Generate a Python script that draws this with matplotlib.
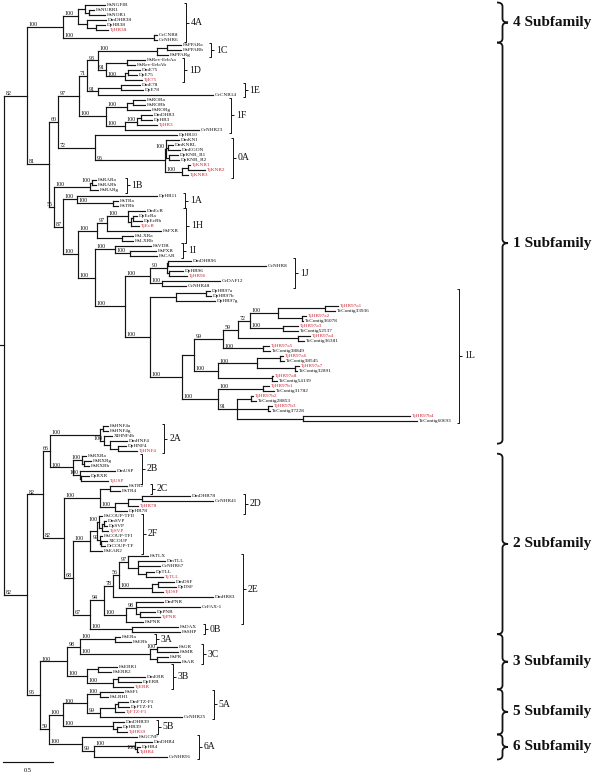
import matplotlib
matplotlib.use("Agg")
import matplotlib.pyplot as plt
from matplotlib.collections import LineCollection
from matplotlib.path import Path
from matplotlib.patches import PathPatch

# ---------------- data: tree (Newick, branch lengths in substitutions/site, internal labels = bootstrap) -------------
SUB4 = "(((HsNGFIB:0.20,(HsNURR1:0.05,HsNOR1:0.16):0.04):0.07,(DmDHR38:0.19,(DpHR38:0.09,TjHR38:0.12):0.09):0.09)100:0.15,(CeCNR8:0.03,CeNHR6:0.03)100:0.91)100:0.36"
S93 = "(((HsPPARa:0.14,HsPPARb:0.14):0.10,HsPPARg:0.11)100:0.59,((HsRev-ErbAa:0.18,HsRev-ErbAb:0.08):0.21,((DmE75:0.12,DpE75:0.09):0.03,TjE75:0.17)100:0.19)91:0.08)93:0.11"
C1E = "((DmE78:0.19,DpE78:0.22):0.23,CeCNR14:1.15)91:0.11"
C1F = "(((HsRORa:0.12,HsRORb:0.12):0.06,HsRORg:0.23)100:0.21,(((DmDHR3:0.11,DpHR3:0.11):0.04,TjHR3:0.20)100:0.12,CeNHR23:0.74)100:0.19)100:0.27"
C0A = "((DmKNI:0.13,(DmKNRL:0.05,DmEGON:0.12):0.02,(DpKNR_R1:0.09,DpKNR_R2:0.10):0.03)100:0.01,((TjKNR1:0.02,TjKNR2:0.17):0.06,TjKNR3:0.06)100:0.17)96:0.70"
C1B = "((HsRARa:0.04,HsRARb:0.04)100:0.02,HsRARg:0.08)100:0.36"
C1A = "(DpHR11:0.80,(HsTRa:0.05,HsTRb:0.05)100:0.36)100:0.14"
C1H = "(((DmEcR:0.17,((DpEcRa:0.04,DpEcRb:0.09):0.02,TjEcR:0.08):0.03)100:0.21,HsFXR:0.54)97:0.10,(HsLXRa:0.11,HsLXRb:0.11):0.25)100:0.19"
C1I = "(HsVDR:0.36,(HsPXR:0.26,HsCAR:0.27)100:0.15)100:0.20"
C1J = "(((DmDHR96:0.23,CeNHR8:0.98):0.01,(DpHR96:0.14,TjHR96:0.18):0.02)90:0.17,(CeDAF12:0.58,CeNHR48:0.24)100:0.12)100:0.25"
L8 = "((TjHR97a1:0.13,TcContig33936:0.10):0.47,(TjHR97a2:0.04,TcContig36078:0.01):0.24)100:0.28"
L7 = "(" + L8 + ",(TjHR97a3:0.15,TcContig52537:0.15)100:0.33)72:0.12"
L6 = "(" + L7 + ",(TjHR97a4:0.12,TcContig36381:0.06):0.60)59:0.15"
L5 = "(" + L6 + ",(TjHR97a5:0.06,TcContig38849:0.07)100:0.40)99:0.29"
L9 = "(((TjHR97a6:0.03,TcContig38545:0.04):0.23,(TjHR97a7:0.04,TcContig32891:0.02):0.38)100:0.39,(TjHR97a8:0.01,TcContig54139:0.05):0.54)100:0.24"
L11 = "((TjHR97b1:0.06,TcContig31782:0.11)100:0.45,((TjHR97b2:0.02,TcContig28853:0.05):0.14,(TjHR97b3:0.04,TcContig37228:0.02):0.31,(TjHR97b4:1.07,TcContig60693:1.14):0.66)91:0.19)100:0.36"
C1L = "(((DpHR97a:0.04,DpHR97b:0.05):0.30,DpHR97g:0.39):0.26,((" + L5 + "," + L9 + "):0.12," + L11 + ")100:0.32)100:0.25"
SUB1 = ("((((" + S93 + "," + C1E + ")71:0.08," + C1F + ")97:0.21,(DpHR10:0.82," + C0A + ")72:0.37)60:0.09,("
        + C1B + ",(" + C1A + ",(" + C1H + ",(" + C1I + ",(" + C1J + "," + C1L + ")100:0.30)100:0.17)100:0.15)87:0.09)55:0.05)81:0.22")
TOP = "(" + SUB4 + "," + SUB1 + ")82:0.23"

C2A = "((HsHNF4a:0.05,HsHNF4g:0.05):0.03,(XlHNF4b:0.08,(DmHNF4:0.17,(DpHNF4:0.08,TjHNF4:0.19):0.08):0.06)100:0.04)100:0.50"
C2B = "((HsRXRa:0.04,(HsRXRg:0.07,HsRXRb:0.05):0.02)100:0.09,(DmUSP:0.35,(DpRXR:0.08,TjUSP:0.27):0.01)100:0.07)100:0.23"
C2CD = "((HsTR2:0.17,HsTR4:0.10):0.10,(((DmDHR78:0.48,CeNHR41:0.71):0.14,TjHR78:0.10):0.13,DpHR78:0.12)100:0.15)100:0.36"
C2F = "(((HsCOUP-TFII:0.03,((DmSVP:0.02,DpSVP:0.03):0.02,TjSVP:0.06):0.03)100:0.02,(HsCOUP-TFI:0.02,(XlCOUP:0.06,DrCOUP-TF:0.04):0.01)99:0.03):0.07,HsEAR2:0.12)100:0.17"
C2E = "((HsTLX:0.20,(DmTLL:0.27,CeNHR67:0.22,(DpTLL:0.08,TjTLL:0.17):0.08):0.10)97:0.09,((DmDSF:0.16,DpDSF:0.18):0.06,TjDSF:0.11)100:0.33)56:0.06"
CPNR = "((DmPNR:0.27,CeFAX-1:0.64,(DpPNR:0.15,TjPNR:0.20):0.04)98:0.10,HsPNR:0.17)100:0.22"
C0B = "(HsDAX:0.46,HsSHP:0.48)100:0.42"
SUB2 = ("((" + C2A + "," + C2B + ")66:0.07,(" + C2CD + ",(" + C2F + ",(((" + C2E + ",DmHR83:1.00)78:0.09,"
        + CPNR + ")94:0.14," + C0B + ")67:0.17)68:0.09)82:0.21)82:0.16")
SUB3 = "(((HsERa:0.05,HsERb:0.16)100:0.35,((HsGR:0.20,HsMR:0.21)100:0.07,(HsPR:0.11,HsAR:0.23):0.07)100:0.70)98:0.13,((HsERR1:0.19,HsERR2:0.13):0.11,((DmERR:0.27,DpERR:0.23):0.05,TjERR:0.20)100:0.26)100:0.20)100:0.27"
SUB5 = "(((HsSF1:0.23,HsLRH1:0.08)100:0.13,(((DmFTZ-F1:0.10,DpFTZ-F1:0.11):0.03,TjFTZ-F1:0.09):0.15,CeNHR25:0.82)99:0.13)100:0.24,(DmDHR39:0.11,(DpHR39:0.04,TjHR39:0.10):0.04)100:0.50)100:0.14"
SUB6 = "(HsGCNF:0.55,((DmDHR4:0.17,(DpHR4:0.03,TjHR4:0.01)100:0.02)100:0.41,CeNHR91:0.73)99:0.12)100:0.33"
BOTTOM = "(" + SUB2 + ",(" + SUB3 + ",(" + SUB5 + "," + SUB6 + ")59:0.09)96:0.13)82:0.23"
TREE = "(" + TOP + "," + BOTTOM + ");"

CLADES = [("4A", "HsNGFIB", "CeNHR6"), ("1C", "HsPPARa", "HsPPARg"), ("1D", "HsRev-ErbAa", "TjE75"),
          ("1E", "DmE78", "CeCNR14"), ("1F", "HsRORa", "CeNHR23"), ("0A", "DmKNI", "TjKNR3"),
          ("1B", "HsRARa", "HsRARg"), ("1A", "DpHR11", "HsTRb"), ("1H", "DmEcR", "HsLXRb"),
          ("1I", "HsVDR", "HsCAR"), ("1J", "DmDHR96", "CeNHR48"), ("1L", "DpHR97a", "TcContig60693"),
          ("2A", "HsHNF4a", "TjHNF4"), ("2B", "HsRXRa", "TjUSP"), ("2C", "HsTR2", "HsTR4"),
          ("2D", "DmDHR78", "DpHR78"), ("2F", "HsCOUP-TFII", "HsEAR2"), ("2E", "HsTLX", "HsPNR"),
          ("0B", "HsDAX", "HsSHP"), ("3A", "HsERa", "HsERb"), ("3C", "HsGR", "HsAR"),
          ("3B", "HsERR1", "TjERR"), ("5A", "HsSF1", "CeNHR25"), ("5B", "DmDHR39", "TjHR39"),
          ("6A", "HsGCNF", "CeNHR91")]
SUBFAMILIES = [("4 Subfamily", "HsNGFIB", "CeNHR6"), ("1 Subfamily", "HsPPARa", "DmHNF4"),
               ("2 Subfamily", "HsRXRa", "HsSHP"), ("3 Subfamily", "HsERa", "TjERR"),
               ("5 Subfamily", "HsSF1", "TjHR39"), ("6 Subfamily", "HsGCNF", "CeNHR91")]
HIGHLIGHT_PREFIX = "Tj"
SCALE_LEN = 0.5
SCALE_LABEL = "0.5"


# ---------------- parsing / layout ----------------
def parse_newick(s):
    s = "".join(s.split()).rstrip(";")
    pos = 0

    def node():
        nonlocal pos
        n = {"children": [], "name": "", "length": 0.0}
        if s[pos] == "(":
            pos += 1
            while True:
                n["children"].append(node())
                if s[pos] == ",":
                    pos += 1
                    continue
                pos += 1  # ')'
                break
        start = pos
        while pos < len(s) and s[pos] not in ",():":
            pos += 1
        n["name"] = s[start:pos]
        if pos < len(s) and s[pos] == ":":
            pos += 1
            start = pos
            while pos < len(s) and s[pos] not in ",()":
                pos += 1
            n["length"] = float(s[start:pos])
        return n

    return node()


root = parse_newick(TREE)
leaves = []


def layout(n, x, parent=None):
    n["x"] = x
    n["parent"] = parent
    if not n["children"]:
        n["y"] = float(len(leaves))
        leaves.append(n)
    else:
        for c in n["children"]:
            layout(c, x + c["length"], n)
        n["y"] = (n["children"][0]["y"] + n["children"][-1]["y"]) / 2.0


layout(root, 0.0)
leaf_by_name = {l["name"]: l for l in leaves}

# ---------------- figure ----------------
PXX = 100.0          # pixels per tree unit
X0 = 4.0             # root position (px)
Y0 = 5.0             # first leaf (px)
DY = 5.0133          # leaf spacing (px)
W, H = 600, 774

fig = plt.figure(figsize=(W / 100, H / 100), dpi=100)
ax = fig.add_axes([0, 0, 1, 1])
ax.set_xlim(-X0 / PXX, (W - X0) / PXX)
ax.set_ylim((H - Y0) / DY, -Y0 / DY)
ax.axis("off")

px = lambda p: p / PXX   # px -> x units
py = lambda p: p / DY    # px -> y units

SERIF = ["Liberation Serif", "DejaVu Serif"]
LINE_C = "#141414"
RED = "#cc2a36"

segs = []


def collect(n):
    if n["children"]:
        ys = [c["y"] for c in n["children"]]
        segs.append([(n["x"], min(ys)), (n["x"], max(ys))])
        for c in n["children"]:
            segs.append([(n["x"], c["y"]), (c["x"], c["y"])])
            collect(c)


collect(root)
segs.append([(root["x"] - px(4), root["y"]), (root["x"], root["y"])])
ax.add_collection(LineCollection(segs, colors=LINE_C, linewidths=0.85, capstyle="projecting"))

# leaf labels
leaf_texts = {}
for l in leaves:
    col = RED if l["name"].startswith(HIGHLIGHT_PREFIX) else "#111111"
    leaf_texts[l["name"]] = ax.text(l["x"] + px(1.5), l["y"], l["name"], fontsize=3.8, family=SERIF,
                                    color=col, ha="left", va="center")


# support values: at the start of the branch, or next to the node when the branch is too short
def supports(n):
    for c in n["children"]:
        if c["children"] and c["name"]:
            branch_px = (c["x"] - n["x"]) * PXX
            label_px = 3.0 * len(c["name"])
            if branch_px < label_px + 4:
                xt, ha = c["x"] - px(1.5), "right"
            else:
                xt, ha = n["x"] + px(1.5), "left"
            ax.text(xt, c["y"] - py(0.9), c["name"], fontsize=4.3, family=SERIF,
                    color="#111111", ha=ha, va="baseline")
        supports(c)


supports(root)

# scale bar
sb_y = py(762 - Y0)
ax.plot([px(-1), px(-1) + SCALE_LEN], [sb_y, sb_y], color=LINE_C, lw=0.85)
ax.text(px(-1) + SCALE_LEN / 2, py(771 - Y0), SCALE_LABEL, fontsize=4.6, family=SERIF,
        ha="center", va="center")

# clade brackets (placed to the right of the widest label in each clade)
fig.canvas.draw()
rend = fig.canvas.get_renderer()
inv = ax.transData.inverted()
brk = []
for lab, a, b in CLADES:
    ia, ib = int(leaf_by_name[a]["y"]), int(leaf_by_name[b]["y"])
    right = max(inv.transform((leaf_texts[l["name"]].get_window_extent(rend).x1, 0))[0]
                for l in leaves[ia:ib + 1])
    xb = right + px(8)
    y0, y1 = ia - 0.45, ib + 0.45
    ym = (y0 + y1) / 2
    brk.append([(xb - px(2), y0), (xb, y0), (xb, y1), (xb - px(2), y1)])
    brk.append([(xb, ym), (xb + px(3), ym)])
    ax.text(xb + px(5), ym, lab, fontsize=7, family=SERIF, ha="left", va="center", color="#111111")
ax.add_collection(LineCollection(brk, colors=LINE_C, linewidths=0.7))

# subfamily braces
BX = px(497 - X0)
BW = px(11)
BR = py(4)
for lab, a, b in SUBFAMILIES:
    y0 = leaf_by_name[a]["y"] - 0.5
    y1 = leaf_by_name[b]["y"] + 0.5
    ym = (y0 + y1) / 2
    xm = BX + BW / 2
    verts = [(BX, y0), (xm, y0), (xm, y0 + BR), (xm, ym - BR), (xm, ym), (BX + BW, ym),
             (xm, ym), (xm, ym + BR), (xm, y1 - BR), (xm, y1), (BX, y1)]
    codes = [Path.MOVETO, Path.CURVE3, Path.CURVE3, Path.LINETO, Path.CURVE3, Path.CURVE3,
             Path.CURVE3, Path.CURVE3, Path.LINETO, Path.CURVE3, Path.CURVE3]
    ax.add_patch(PathPatch(Path(verts, codes), fill=False, lw=1.3, ec=LINE_C))
    ax.text(BX + BW + px(5), ym, lab, fontsize=11, family=SERIF, weight="bold",
            ha="left", va="center", color="#111111")

fig.savefig("out.png", dpi=100)
